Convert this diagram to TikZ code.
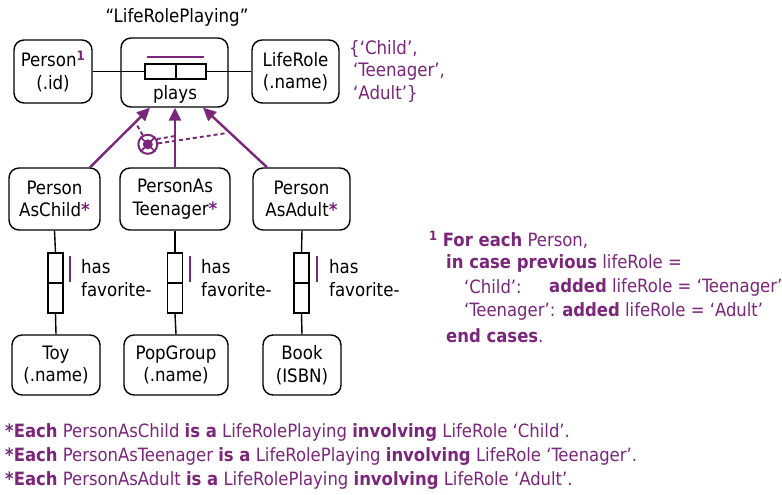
\documentclass[tikz,border=0pt]{standalone}
\usepackage{fontspec}
\setmainfont{DejaVu Sans Condensed}
\usetikzlibrary{arrows.meta,calc}
\definecolor{orm}{RGB}{122,38,122}
\tikzset{
  ent/.style={draw,line width=1.4pt,rounded corners=10pt,align=center,inner sep=0pt,font=\fontsize{18.5}{22.5}\selectfont},
  rolebox/.style={draw,line width=1.3pt,rectangle,inner sep=0pt,minimum width=#1},
  conn/.style={line width=1.4pt},
  subarrow/.style={orm,line width=2.4pt,-{Triangle[length=13pt,width=12pt]}},
  ubar/.style={orm,line width=1.8pt},
  excl/.style={orm,line width=1.9pt,dash pattern=on 4pt off 3pt},
  txt/.style={inner sep=0pt,font=\fontsize{18.5}{22.5}\selectfont},
  ptxt/.style={txt,text=orm},
  ntxt/.style={inner sep=0pt,text=orm,font=\fontsize{18.3}{22}\selectfont},
  ftxt/.style={inner sep=0pt,text=orm,font=\fontsize{18.3}{22}\selectfont},
}
\begin{document}
\begin{tikzpicture}[x=1pt,y=-1pt]
\useasboundingbox (0,0) rectangle (782,495);
% title
\node[txt] (title) at (177,17) {“LifeRolePlaying”};
% top entities
\node[ent,minimum width=78pt,minimum height=63pt] (person) at (53,71.5) {Person\textsuperscript{\textcolor{orm}{\bfseries 1}}\\(.id)};
\node[ent,minimum width=107pt,minimum height=69pt] (plays) at (174.5,72.5) {};
\node[ent,minimum width=87pt,minimum height=63pt] (liferole) at (295.5,71.5) {LifeRole\\(.name)};
% role boxes of plays
\node[rolebox=31pt,minimum height=15pt] (r1) at (160.5,71.5) {};
\node[rolebox=30pt,minimum height=15pt] (r2) at (191,71.5) {};
\coordinate (u1) at (147,57);
\coordinate (u2) at (204,57);
\draw[ubar] (u1) -- (u2);
\node[txt] (playslbl) at (175,94) {plays};
\draw[conn] (person.east) -- (r1.west);
\draw[conn] (r2.east) -- (liferole.west);
% value constraint
\node[ptxt,anchor=north west,align=left] (vals) at (349,40) {\{‘Child’,\\\hspace*{4pt}‘Teenager’,\\\hspace*{4pt}‘Adult’\}};
% subtypes
\node[ent,minimum width=91pt,minimum height=62pt] (pac) at (54.5,199) {Person\\AsChild\textcolor{orm}{\bfseries *}};
\node[ent,minimum width=110pt,minimum height=62pt] (pat) at (175,199) {PersonAs\\Teenager\textcolor{orm}{\bfseries *}};
\node[ent,minimum width=97pt,minimum height=62pt] (paa) at (301.5,199) {Person\\AsAdult\textcolor{orm}{\bfseries *}};
\draw[subarrow] ([xshift=35.5pt]pac.north) -- ([xshift=-24.5pt]plays.south);
\draw[subarrow] (pat.north) -- ([xshift=0.5pt]plays.south);
\draw[subarrow] ([xshift=-34.5pt]paa.north) -- ([xshift=28.5pt]plays.south);
% exclusive-or constraint
\node[draw=orm,circle,line width=2pt,minimum size=19pt,inner sep=0pt] (ex) at (147.8,144.3) {};
\draw[orm,line width=1.7pt] (ex.north west) -- (ex.south east);
\draw[orm,line width=1.7pt] (ex.north east) -- (ex.south west);
\fill[orm] (ex.center) circle (5pt);
\coordinate (e1) at (135.5,122.5);
\coordinate (e2) at (175,136);
\coordinate (e3) at (227,133);
\draw[excl] (ex) -- (e1);
\draw[excl] (ex.30) -- (e2);
\draw[excl] (ex.5) -- (e3);
% favourite facts
\foreach \n/\x/\bx/\tx in {a/55.5/70/81, b/175/190/201, c/301.5/317/329}{
  \node[rolebox=15pt,minimum height=30pt] (f\n1) at (\x,268) {};
  \node[rolebox=15pt,minimum height=30pt] (f\n2) at (\x,298) {};
  \coordinate (bt\n) at (\bx,256);
  \coordinate (bb\n) at (\bx,282);
  \draw[ubar] (bt\n) -- (bb\n);
  \node[txt,anchor=west,align=left] (lbl\n) at (\tx,278) {has\\favorite-};
}
% bottom entities
\node[ent,minimum width=88pt,minimum height=60pt] (toy) at (56,365) {Toy\\(.name)};
\node[ent,minimum width=104pt,minimum height=60pt] (pop) at (176,365) {PopGroup\\(.name)};
\node[ent,minimum width=78pt,minimum height=60pt] (book) at (302,365) {Book\\(ISBN)};
\draw[conn] (pac.south) -- (fa1.north);
\draw[conn] (fa2.south) -- (toy.north);
\draw[conn] (pat.south) -- (fb1.north);
\draw[conn] (fb2.south) -- (pop.north);
\draw[conn] ([xshift=0.5pt]paa.south) -- (fc1.north);
\draw[conn] (fc2.south) -- (book.north);
% note
\node[ntxt,anchor=west] (n1) at (429,240) {\textsuperscript{\bfseries 1} \textbf{For each} Person,};
\node[ntxt,anchor=west] (n2) at (446,263) {\textbf{in case previous} lifeRole =};
\node[ntxt,anchor=west] (n3) at (464,287) {‘Child’:};
\node[ntxt,anchor=west] (n3b) at (549,287) {\textbf{added} lifeRole = ‘Teenager’};
\node[ntxt,anchor=west] (n4) at (464,311) {‘Teenager’: \textbf{added} lifeRole = ‘Adult’};
\node[ntxt,anchor=west] (n5) at (446,336) {\textbf{end cases}.};
% footer
\node[ftxt,anchor=west] (s1) at (5,433) {\textbf{*Each} PersonAsChild \textbf{is a} LifeRolePlaying \textbf{involving} LifeRole ‘Child’.};
\node[ftxt,anchor=west] (s2) at (5,457) {\textbf{*Each} PersonAsTeenager \textbf{is a} LifeRolePlaying \textbf{involving} LifeRole ‘Teenager’.};
\node[ftxt,anchor=west] (s3) at (5,481) {\textbf{*Each} PersonAsAdult \textbf{is a} LifeRolePlaying \textbf{involving} LifeRole ‘Adult’.};
\end{tikzpicture}
\end{document}
